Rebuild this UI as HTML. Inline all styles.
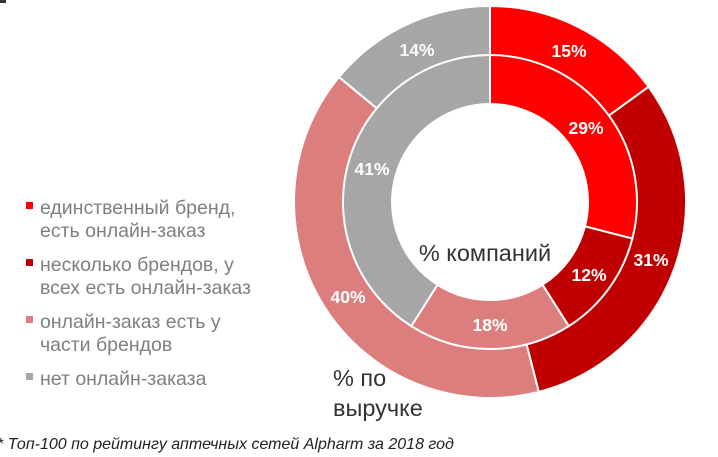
<!DOCTYPE html>
<html><head><meta charset="utf-8"><style>
body{margin:0;width:718px;height:457px;background:#fff;overflow:hidden;font-family:"Liberation Sans",sans-serif}
svg{position:absolute;left:0;top:0}
</style></head><body>
<svg id="s" width="718" height="457" viewBox="0 0 718 457">
<g id="arcs"></g>
<g font-family="Liberation Sans, sans-serif" font-weight="bold" font-size="17.5" fill="#fff" text-anchor="middle">
<text x="417" y="56">14%</text>
<text x="569" y="57">15%</text>
<text x="586" y="134">29%</text>
<text x="372" y="175">41%</text>
<text x="651" y="266">31%</text>
<text x="589" y="281">12%</text>
<text x="490" y="331">18%</text>
<text x="348" y="303">40%</text>
</g>
<g font-family="Liberation Sans, sans-serif" font-size="23.5" fill="#333">
<text x="485" y="261" text-anchor="middle">% компаний</text>
<text x="333" y="386">% по</text>
<text x="333" y="416">выручке</text>
</g>
<g font-family="Liberation Sans, sans-serif" font-size="19.5" fill="#7f7f7f">
<rect x="26" y="202" width="7" height="7" fill="#ff0000"/>
<text x="40" y="214">единственный бренд,</text>
<text x="40" y="237">есть онлайн-заказ</text>
<rect x="26" y="259" width="7" height="7" fill="#c00000"/>
<text x="40" y="271">несколько брендов, у</text>
<text x="40" y="294">всех есть онлайн-заказ</text>
<rect x="26" y="316" width="7" height="7" fill="#dd7e7e"/>
<text x="40" y="328">онлайн-заказ есть у</text>
<text x="40" y="351">части брендов</text>
<rect x="26" y="373" width="7" height="7" fill="#a6a6a6"/>
<text x="40" y="385">нет онлайн-заказа</text>
</g>
<text x="-3" y="449" font-family="Liberation Sans, sans-serif" font-style="italic" font-size="16" fill="#222">* Топ-100 по рейтингу аптечных сетей Alpharm за 2018 год</text>
<rect x="0" y="0" width="6" height="3" fill="#333"/>
</svg>
<script>
var cx=490,cy=202,g=document.getElementById('arcs');
var cols=['#ff0000','#c00000','#dd7e7e','#a6a6a6'];
function ring(vals,r0,r1){var a=0;for(var i=0;i<4;i++){var a0=a,a1=a+vals[i]/100*2*Math.PI;a=a1;
function p(r,t){return (cx+r*Math.sin(t)).toFixed(2)+' '+(cy-r*Math.cos(t)).toFixed(2);}
var l=(a1-a0)>Math.PI?1:0;
var d='M'+p(r1,a0)+' A'+r1+' '+r1+' 0 '+l+' 1 '+p(r1,a1)+' L'+p(r0,a1)+' A'+r0+' '+r0+' 0 '+l+' 0 '+p(r0,a0)+'Z';
var e=document.createElementNS('http://www.w3.org/2000/svg','path');e.setAttribute('d',d);e.setAttribute('fill',cols[i]);e.setAttribute('stroke','#fff');e.setAttribute('stroke-width','2');g.appendChild(e);}}
ring([15,31,40,14],146,196);
ring([29,12,18,41],98,147);
</script>
</body></html>
